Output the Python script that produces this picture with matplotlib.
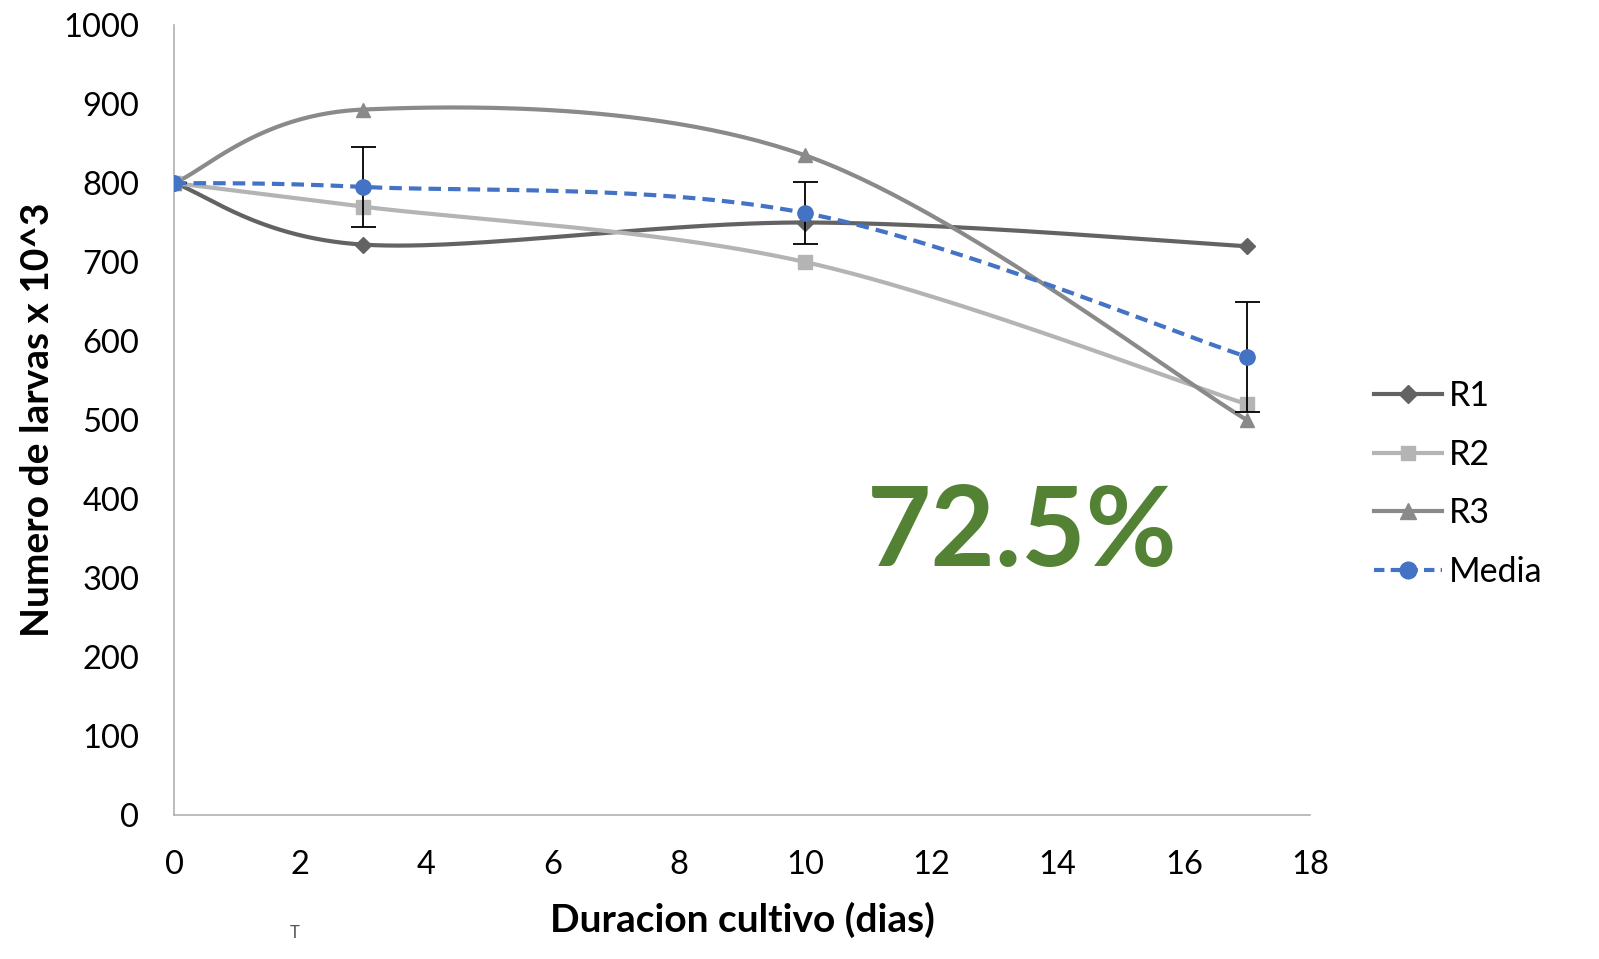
import numpy as np
import matplotlib
matplotlib.use("Agg")
import matplotlib.pyplot as plt

plt.rcParams['font.family'] = ['Lato', 'DejaVu Sans']

# data
dias = [0, 3, 10, 17]
r1 = [800, 722, 750, 720]
r2 = [800, 770, 700, 520]
r3 = [800, 893, 835, 500]
media = [800, 795, 762, 580]
media_err = [0, 51, 39, 70]


def smooth(xs, ys, n=60):
  """Excel style smoothed line: Catmull-Rom segments drawn as cubic Bezier curves."""
  p = np.column_stack([xs, ys]).astype(float)
  out = []
  for i in range(len(p) - 1):
    p0 = p[i - 1] if i > 0 else p[i]
    p3 = p[i + 2] if i + 2 < len(p) else p[i + 1]
    c1 = p[i] + (p[i + 1] - p0) / 6
    c2 = p[i + 1] - (p3 - p[i]) / 6
    t = np.linspace(0, 1, n)[:, None]
    seg = (1 - t)**3 * p[i] + 3 * (1 - t)**2 * t * c1 + 3 * (1 - t) * t**2 * c2 + t**3 * p[i + 1]
    out.append(seg if i == 0 else seg[1:])
  out = np.vstack(out)
  return out[:, 0], out[:, 1]


fig = plt.figure(figsize=(15.99, 9.59), dpi=100)
ax = fig.add_axes([174/1599, 1 - 815/959, (1310-174)/1599, (815-25)/959])

series = [
  ("R1", r1, "#636363", "D", 8.5),
  ("R2", r2, "#b4b4b4", "s", 9.5),
  ("R3", r3, "#8a8a8a", "^", 10.5),
]
for name, vals, col, mk, ms in series:
  sx, sy = smooth(dias, vals)
  ax.plot(sx, sy, color=col, lw=3, solid_capstyle='round', zorder=2)
  ax.plot(dias, vals, ls='none', marker=mk, ms=ms, color=col, zorder=3)
  ax.plot([], [], color=col, lw=3, marker=mk, ms=ms + 1, label=name)

ax.errorbar(dias, media, yerr=media_err, fmt='none', ecolor='black', elinewidth=1.3, capsize=9, capthick=1.3, zorder=4)
sx, sy = smooth(dias, media)
ax.plot(sx, sy, color='#4472c4', lw=3, ls=(0, (3, 1.7)), zorder=5)
ax.plot(dias, media, ls='none', marker='o', ms=11, color='#4472c4', zorder=6)
ax.plot([], [], color='#4472c4', lw=3, ls=(0, (2.5, 1.5)), marker='o', ms=12, label="Media")

ax.set_xlim(0, 18)
ax.set_ylim(0, 1000)
ax.set_xticks(range(0, 19, 2))
ax.set_yticks(range(0, 1001, 100))
ax.tick_params(axis='both', length=0, labelsize=23.5)
ax.tick_params(axis='x', pad=25)
ax.tick_params(axis='y', pad=25)
for s in ['top', 'right']:
  ax.spines[s].set_visible(False)
for s in ['left', 'bottom']:
  ax.spines[s].set_color('#b0b0b0')
  ax.spines[s].set_linewidth(1.2)

ax.set_xlabel("Duracion cultivo (dias)", fontsize=28, fontweight='bold', labelpad=16)
ax.set_ylabel("Numero de larvas x 10^3", fontsize=28, fontweight='bold', labelpad=6)

ax.text(0.747, 0.356, "72.5%", transform=ax.transAxes, ha='center', va='center',
        fontsize=80, fontweight='bold', color='#548235')

fig.legend(loc='center left', bbox_to_anchor=(1343/1599, 1 - 484/959), frameon=False,
           fontsize=24.5, handlelength=2.0, labelspacing=0.78, handletextpad=0.2)

fig.text(295/1599, 1 - 933/959, "T", fontsize=12, color='#555555', ha='center', va='center')

fig.savefig("out.png", dpi=100)
